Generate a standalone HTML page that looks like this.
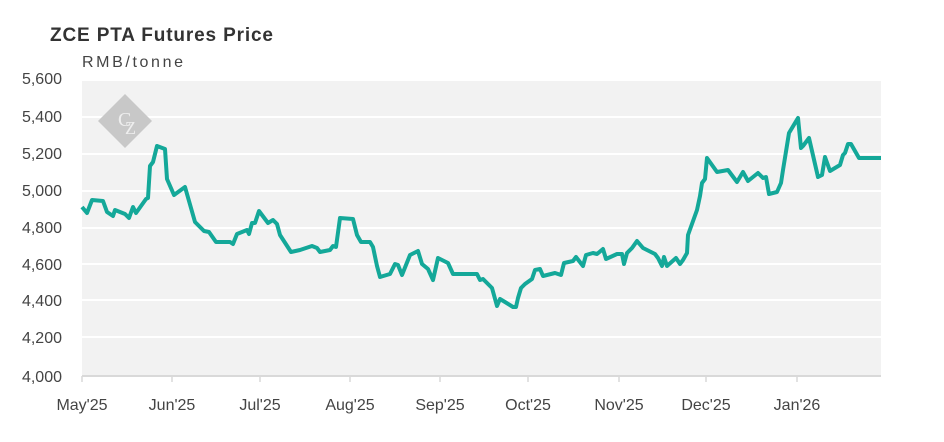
<!DOCTYPE html>
<html><head><meta charset="utf-8"><style>html,body{margin:0;padding:0;background:#fff}svg{display:block}</style></head>
<body>
<svg width="944" height="442" xmlns="http://www.w3.org/2000/svg" font-family="'Liberation Sans',sans-serif">
<rect x="82" y="81" width="799" height="295" fill="#f2f2f2"/>
<g stroke="#fff" stroke-width="2">
<line x1="82" x2="881" y1="117" y2="117"/><line x1="82" x2="881" y1="154" y2="154"/>
<line x1="82" x2="881" y1="191" y2="191"/><line x1="82" x2="881" y1="228" y2="228"/>
<line x1="82" x2="881" y1="264" y2="264"/><line x1="82" x2="881" y1="300" y2="300"/>
<line x1="82" x2="881" y1="337" y2="337"/></g>
<line x1="82" x2="881" y1="376" y2="376" stroke="#d9d9d9" stroke-width="2"/>
<g stroke="#d9d9d9" stroke-width="1.5">
<line x1="82" x2="82" y1="376" y2="382"/><line x1="172" x2="172" y1="376" y2="382"/>
<line x1="260" x2="260" y1="376" y2="382"/><line x1="350" x2="350" y1="376" y2="382"/>
<line x1="440" x2="440" y1="376" y2="382"/><line x1="528" x2="528" y1="376" y2="382"/>
<line x1="619" x2="619" y1="376" y2="382"/><line x1="706" x2="706" y1="376" y2="382"/>
<line x1="797" x2="797" y1="376" y2="382"/></g>
<polygon points="125,94 152,121 125,148 98,121" fill="#c8c8c8"/>
<text x="118" y="126" font-family="'Liberation Serif',serif" font-size="20" fill="#eee">C</text>
<text x="125" y="134" font-family="'Liberation Serif',serif" font-size="18" fill="#eee">Z</text>
<polyline fill="none" stroke="#14a899" stroke-width="4" stroke-linejoin="round" points="82,207 87,213 92,200 103,201 107,212 113,216 115,210 125,214 129,218 133,207 136,213 146,199 148,198 150,166 153,162 157,146 165,149 167,179 174,195 185,187 195,222 204,231 209,232 216,242 230,242 233,244 237,234 247,230 249,234 252,223 255,223 259,211 268,223 273,220 277,224 280,235 291,252 300,250 312,246 317,248 320,252 330,250 333,246 336,247 340,218 353,219 357,235 361,242 370,242 373,247 377,266 380,277 390,274 395,264 398,265 402,275 410,255 418,251 422,264 428,269 433,280 438,258 448,263 453,274 477,274 480,280 483,279 492,288 497,306 500,299 505,302 513,307 516,307 518,298 521,288 525,284 532,279 535,270 540,269 543,276 555,273 561,275 564,263 573,261 576,257 583,266 586,255 593,253 597,254 603,249 606,259 617,254 622,254 624,264 627,253 632,248 637,241 643,248 655,254 658,258 662,266 664,257 667,266 676,258 680,264 683,260 687,253 688,235 697,210 700,196 702,183 705,179 707,158 717,172 728,170 737,182 743,172 748,181 758,173 763,178 766,177 769,194 777,192 781,183 783,170 789,133 798,118 801,148 803,146 809,138 818,177 822,175 825,157 830,171 840,165 843,155 845,153 848,144 851,144 859,158 881,158"/>
<text x="50" y="41" font-size="19" font-weight="bold" fill="#333" textLength="223">ZCE PTA Futures Price</text>
<text x="82" y="67" font-size="16" fill="#444" textLength="101">RMB/tonne</text>
<g font-size="16" fill="#444" text-anchor="end">
<text x="62" y="84">5,600</text><text x="62" y="122">5,400</text><text x="62" y="159">5,200</text>
<text x="62" y="196">5,000</text><text x="62" y="233">4,800</text><text x="62" y="270">4,600</text>
<text x="62" y="306">4,400</text><text x="62" y="343">4,200</text><text x="62" y="382">4,000</text></g>
<g font-size="16" fill="#444" text-anchor="middle">
<text x="82" y="410">May'25</text><text x="172" y="410">Jun'25</text><text x="260" y="410">Jul'25</text>
<text x="350" y="410">Aug'25</text><text x="440" y="410">Sep'25</text><text x="528" y="410">Oct'25</text>
<text x="619" y="410">Nov'25</text><text x="706" y="410">Dec'25</text><text x="797" y="410">Jan'26</text></g>
</svg>
</body></html>
